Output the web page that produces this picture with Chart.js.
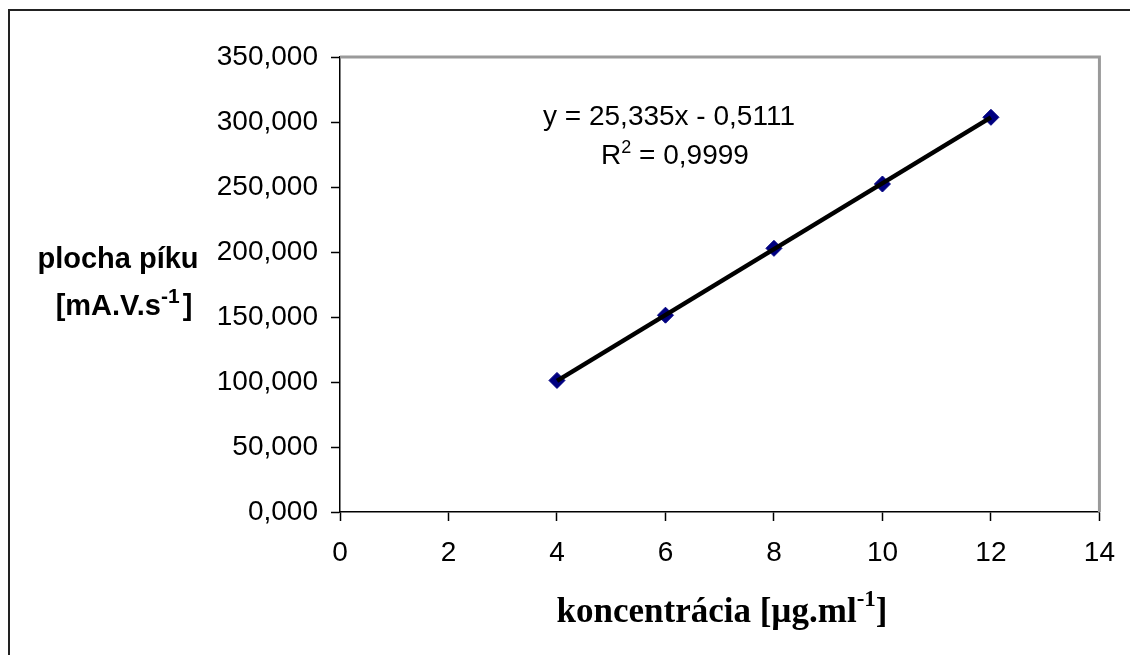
<!DOCTYPE html>
<html>
<head>
<meta charset="utf-8">
<title>Kalibračná krivka</title>
<script src="https://cdn.jsdelivr.net/npm/chart.js@4/dist/chart.umd.min.js"></script>
<style>
  html, body { margin: 0; padding: 0; background: #fff; }
  #wrap { width: 1130px; height: 655px; }
</style>
</head>
<body>
<div id="wrap"><canvas id="graphCanvas" width="1130" height="655"></canvas></div>
<script>
// namerané body kalibrácie
const concentrations = [4, 6, 8, 10, 12];
const peakAreas = [101.2, 151.4, 202.8, 252.3, 303.6];

// lineárna regresia (z rovnice v grafe)
const slope = 25.335;
const intercept = -0.5111;
const rSquared = 0.9999;
const trendRange = [4, 12];

const xTicks = [0, 2, 4, 6, 8, 10, 12, 14];
const yTicks = [0, 50, 100, 150, 200, 250, 300, 350];

function fmt(v, dec) {
    return v.toFixed(dec).replace('.', ',');
}

// text s horným indexom, vycentrovaný na cx
function drawParts(ctx, parts, cx, baseline, font, supFont) {
    let total = 0;
    parts.forEach(p => {
        ctx.font = p.sup ? supFont : font;
        p.w = ctx.measureText(p.t).width + (p.gap || 0);
        total += p.w;
    });
    let x = cx - total / 2;
    ctx.textAlign = 'left';
    ctx.textBaseline = 'alphabetic';
    parts.forEach(p => {
        ctx.font = p.sup ? supFont : font;
        ctx.fillText(p.t, x, p.sup ? baseline - p.rise : baseline);
        x += p.w;
    });
}

const decorPlugin = {
    id: 'decor',
    beforeDraw(chart) {
        const ctx = chart.ctx;
        ctx.save();
        ctx.fillStyle = '#fff';
        ctx.fillRect(0, 0, chart.width, chart.height);
        // vonkajší rámik
        ctx.strokeStyle = '#222';
        ctx.lineWidth = 2;
        ctx.strokeRect(9, 10, chart.width + 20, chart.height + 20);
        ctx.restore();
    },
    afterDraw(chart) {
        const ctx = chart.ctx;
        const a = chart.chartArea;
        ctx.save();
        // šedý okraj plochy grafu
        ctx.strokeStyle = '#9a9a9a';
        ctx.lineWidth = 3;
        ctx.beginPath();
        ctx.moveTo(a.left, a.top);
        ctx.lineTo(a.right, a.top);
        ctx.lineTo(a.right, a.bottom);
        ctx.stroke();

        ctx.fillStyle = '#000';
        const reg = '28px "Liberation Sans", Arial, sans-serif';
        const regSup = '18px "Liberation Sans", Arial, sans-serif';
        const eq = 'y = ' + fmt(slope, 3) + 'x - ' + fmt(-intercept, 4);
        drawParts(ctx, [{ t: eq }], 669, 125, reg, regSup);
        drawParts(ctx, [{ t: 'R' }, { t: '2', sup: true, rise: 11 }, { t: ' = ' + fmt(rSquared, 4) }],
            675, 164, reg, regSup);

        // názov osi y
        const bold = 'bold 29px "Liberation Sans", Arial, sans-serif';
        const boldSup = 'bold 21px "Liberation Sans", Arial, sans-serif';
        drawParts(ctx, [{ t: 'plocha píku' }], 118, 268, bold, boldSup);
        drawParts(ctx, [{ t: '[mA.V.s' }, { t: '-1', sup: true, rise: 12, gap: 3 }, { t: ']' }], 124, 315, bold, boldSup);

        // názov osi x
        const serif = 'bold 35px "Liberation Serif", "Times New Roman", serif';
        const serifSup = 'bold 23px "Liberation Serif", "Times New Roman", serif';
        drawParts(ctx, [{ t: 'koncentrácia [µg.ml' }, { t: '-1', sup: true, rise: 16 }, { t: ']' }],
            722, 622, serif, serifSup);
        ctx.restore();
    }
};

const tickFont = { family: '"Liberation Sans", Arial, sans-serif', size: 28 };

const ctx = document.getElementById('graphCanvas').getContext('2d');
window.myChart = new Chart(ctx, {
    type: 'scatter',
    data: {
        datasets: [
            {
                label: 'trend',
                type: 'line',
                data: trendRange.map(x => ({ x: x, y: slope * x + intercept })),
                borderColor: '#000',
                borderWidth: 4.5,
                pointRadius: 0,
                fill: false,
                order: 0
            },
            {
                label: 'plocha píku',
                data: concentrations.map((x, i) => ({ x: x, y: peakAreas[i] })),
                pointStyle: 'rectRot',
                pointRadius: 8,
                backgroundColor: '#000080',
                borderColor: '#000080',
                borderWidth: 1,
                order: 1
            }
        ]
    },
    options: {
        responsive: false,
        animation: false,
        layout: { padding: { left: 0, top: 57, right: 30, bottom: 0 } },
        plugins: {
            legend: { display: false },
            tooltip: { enabled: false }
        },
        scales: {
            x: {
                type: 'linear',
                min: xTicks[0],
                max: xTicks[xTicks.length - 1],
                afterBuildTicks(scale) { scale.ticks = xTicks.map(v => ({ value: v })); },
                afterFit(scale) { scale.height = 143; },
                ticks: { color: '#000', font: tickFont, padding: 15, maxRotation: 0 },
                grid: { drawOnChartArea: false, tickLength: 9, tickColor: '#000', tickWidth: 1.5 },
                border: { color: '#000', width: 1.5 }
            },
            y: {
                min: yTicks[0],
                max: yTicks[yTicks.length - 1],
                afterBuildTicks(scale) { scale.ticks = yTicks.map(v => ({ value: v })); },
                afterFit(scale) { scale.width = 340; },
                ticks: {
                    color: '#000',
                    font: tickFont,
                    padding: 13,
                    callback: v => fmt(v, 3)
                },
                grid: { drawOnChartArea: false, tickLength: 9, tickColor: '#000', tickWidth: 1.5 },
                border: { color: '#000', width: 1.5 }
            }
        }
    },
    plugins: [decorPlugin]
});
</script>
</body>
</html>
